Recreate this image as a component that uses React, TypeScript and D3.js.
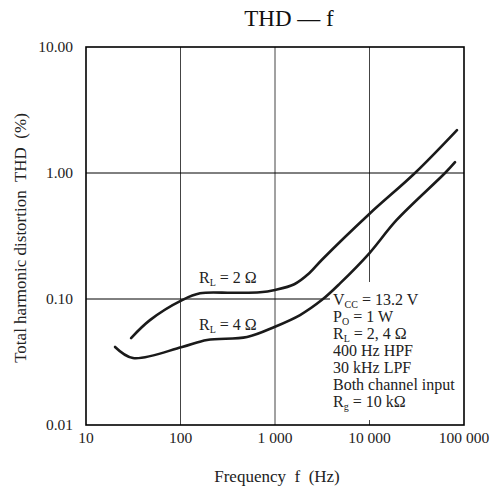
import React from "react";
import * as d3 from "d3";

const xTicks = [10, 100, 1000, 10000, 100000];
const xTickLabels = ["10", "100", "1 000", "10 000", "100 000"];
const yTicks = [0.01, 0.1, 1, 10];
const yTickLabels = ["0.01", "0.10", "1.00", "10.00"];

// R_L = 2 Ω curve: [frequency Hz, THD %]
const curve2: [number, number][] = [
  [30, 0.049], [47.5, 0.068], [104, 0.098], [161, 0.111], [360, 0.112],
  [694, 0.113], [1000, 0.118], [1600, 0.131], [2300, 0.16], [3120, 0.204],
  [9950, 0.473], [30300, 1.0], [84300, 2.19],
];
// R_L = 4 Ω curve
const curve4: [number, number][] = [
  [20.3, 0.0416], [31.4, 0.034], [104, 0.0416], [191, 0.0473], [506, 0.05],
  [1000, 0.0603], [1841, 0.0746], [3120, 0.098], [4875, 0.133],
  [9950, 0.2305], [19400, 0.424], [63000, 1.0], [80400, 1.22],
];

const noteLines: string[][] = [
  ["V", "CC", " = 13.2 V"],
  ["P", "O", " = 1 W"],
  ["R", "L", " = 2, 4 Ω"],
  ["400 Hz HPF"],
  ["30 kHz LPF"],
  ["Both channel input"],
  ["R", "g", " = 10 kΩ"],
];

const FONT = "'Liberation Serif', 'Times New Roman', serif";

function Sub({ parts }: { parts: string[] }) {
  if (parts.length === 1) return <>{parts[0]}</>;
  return (
    <>
      {parts[0]}
      <tspan fontSize={10} dy={2.5}>{parts[1]}</tspan>
      <tspan dy={-2.5}>{parts[2]}</tspan>
    </>
  );
}

export default function App() {
  const W = 495, H = 490;
  const x = d3.scaleLog().domain([10, 100000]).range([86, 464]);
  const y = d3.scaleLog().domain([0.01, 10]).range([425, 47]);
  const line = d3
    .line<[number, number]>()
    .x((d) => x(d[0]))
    .y((d) => y(d[1]))
    .curve(d3.curveCatmullRom.alpha(0.5));

  const boxLeft = 330, boxTop = 282, boxBottom = 420;

  return (
    <svg width={W} height={H} style={{ position: "absolute", left: 0, top: 0, background: "#fff" }} fontFamily={FONT}>
      <rect x={0} y={0} width={W} height={H} fill="#fff" />
      {/* grid */}
      {xTicks.slice(1, -1).map((t) => (
        <line key={t} x1={x(t)} x2={x(t)} y1={y(10)} y2={y(0.01)} stroke="#444" strokeWidth={1} />
      ))}
      {yTicks.slice(1, -1).map((t) => (
        <line key={t} x1={x(10)} x2={x(100000)} y1={y(t)} y2={y(t)} stroke="#000" strokeWidth={1} />
      ))}
      {/* annotation box background */}
      <rect x={boxLeft} y={boxTop} width={x(100000) - boxLeft} height={boxBottom - boxTop} fill="#fff" />
      <line x1={x(10000)} x2={x(10000)} y1={boxBottom} y2={y(0.01)} stroke="#444" strokeWidth={1} />
      {/* curves */}
      <path d={line(curve2) || ""} fill="none" stroke="#1a1a1a" strokeWidth={2.6} strokeLinecap="round" />
      <path d={line(curve4) || ""} fill="none" stroke="#1a1a1a" strokeWidth={2.6} strokeLinecap="round" />
      {/* frame */}
      <rect x={x(10)} y={y(10)} width={x(100000) - x(10)} height={y(0.01) - y(10)} fill="none" stroke="#000" strokeWidth={1.6} />
      {/* tick labels */}
      {xTicks.map((t, i) => (
        <text key={t} x={x(t)} y={443} textAnchor="middle" fontSize={15.5} fill="#222">{xTickLabels[i]}</text>
      ))}
      {yTicks.map((t, i) => (
        <text key={t} x={73} y={y(t) + 5} textAnchor="end" fontSize={15.5} fill="#222">{yTickLabels[i]}</text>
      ))}
      {/* curve labels */}
      <text x={199} y={283} fontSize={16} fill="#222"><Sub parts={["R", "L", " = 2 Ω"]} /></text>
      <text x={199} y={330} fontSize={16} fill="#222"><Sub parts={["R", "L", " = 4 Ω"]} /></text>
      {/* notes */}
      {noteLines.map((p, i) => (
        <text key={i} x={333} y={305 + i * 17} fontSize={16} fill="#222"><Sub parts={p} /></text>
      ))}
      {/* title and axis labels */}
      <text x={289} y={26} textAnchor="middle" fontSize={23} fill="#111">THD — f</text>
      <text x={277} y={482} textAnchor="middle" fontSize={17} fill="#222" style={{ whiteSpace: "pre" }}>Frequency  f  (Hz)</text>
      <text transform={`translate(26,238) rotate(-90)`} textAnchor="middle" fontSize={17} fill="#222" style={{ whiteSpace: "pre" }}>Total harmonic distortion  THD  (%)</text>
    </svg>
  );
}
